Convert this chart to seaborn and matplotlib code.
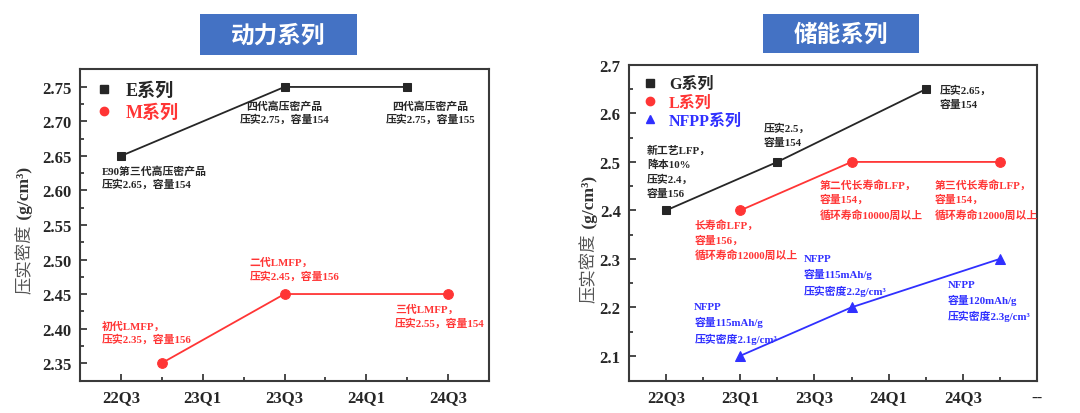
#!/usr/bin/env python3
# Compaction density roadmap: power series vs storage series

import pandas as pd
import matplotlib.pyplot as plt
import seaborn as sns
from matplotlib.patches import Rectangle
from matplotlib.lines import Line2D

sns.set_theme(style='ticks')
FONTS = ['Liberation Serif', 'Noto Sans CJK SC', 'DejaVu Sans']
plt.rcParams['font.family'] = FONTS

# quarter index: 0 = 22Q3, 1 = 22Q4, ...
left_ticks = ['22Q3', '23Q1', '23Q3', '24Q1', '24Q3']
right_ticks = ['22Q3', '23Q1', '23Q3', '24Q1', '24Q3', '--']

e_x = [0, 4, 7]
e_y = [2.65, 2.75, 2.75]
m_x = [1, 4, 8]
m_y = [2.35, 2.45, 2.45]

g_x = [0, 3, 7]
g_y = [2.40, 2.50, 2.65]
l_x = [2, 5, 9]
l_y = [2.40, 2.50, 2.50]
n_x = [2, 5, 9]
n_y = [2.10, 2.20, 2.30]

BLACK = '#262626'
RED = '#FF3535'
BLUE = '#3030FF'
TITLE_BLUE = '#4472C4'

fig = plt.figure(figsize=(10.8, 4.14), dpi=100)
ax1 = fig.add_axes([0.0741, 0.0773, 0.3787, 0.7536])
ax2 = fig.add_axes([0.5824, 0.0773, 0.3778, 0.7633])


def draw(ax, xs, ys, color, marker, size):
    df = pd.DataFrame({'q': xs, 'v': ys})
    sns.lineplot(data=df, x='q', y='v', ax=ax, color=color, marker=marker,
                 markersize=size, markeredgecolor=color, linewidth=1.3)


draw(ax1, e_x, e_y, BLACK, 's', 6)
draw(ax1, m_x, m_y, RED, 'o', 7)
draw(ax2, g_x, g_y, BLACK, 's', 6)
draw(ax2, l_x, l_y, RED, 'o', 7)
draw(ax2, n_x, n_y, BLUE, '^', 7)

# axes styling
for ax in (ax1, ax2):
    for sp in ax.spines.values():
        sp.set_linewidth(1.5)
        sp.set_color('#3a3a3a')
    ax.tick_params(which='both', direction='in', color='#3a3a3a', width=1.3)
    ax.tick_params(which='major', length=5, labelsize=12, pad=6)
    ax.tick_params(which='minor', length=3)
    ax.set_xlabel('')
    ax.set_ylabel('')

ax1.set_xlim(-1, 9)
ax1.set_ylim(2.324, 2.776)
ax1.set_xticks([0, 2, 4, 6, 8])
ax1.set_xticklabels(left_ticks, fontweight='bold')
ax1.set_xticks([1, 3, 5, 7], minor=True)
ax1.set_yticks([2.35, 2.40, 2.45, 2.50, 2.55, 2.60, 2.65, 2.70, 2.75])
ax1.set_yticklabels([f'{v:.2f}' for v in ax1.get_yticks()], fontweight='bold')
ax1.set_yticks([2.375, 2.425, 2.475, 2.525, 2.575, 2.625, 2.675, 2.725], minor=True)

ax2.set_xlim(-1, 10)
ax2.set_ylim(2.048, 2.70)
ax2.set_xticks([0, 2, 4, 6, 8, 10])
ax2.set_xticklabels(right_ticks, fontweight='bold')
ax2.set_xticks([1, 3, 5, 7, 9], minor=True)
ax2.set_yticks([2.1, 2.2, 2.3, 2.4, 2.5, 2.6, 2.7])
ax2.set_yticklabels([f'{v:.1f}' for v in ax2.get_yticks()], fontweight='bold')
ax2.set_yticks([2.15, 2.25, 2.35, 2.45, 2.55, 2.65], minor=True)


# y label: Chinese part plain grey, unit part bold
def ylabel(ax, x, split):
    ax.text(x, split, '压实密度', rotation=90, ha='center', va='top',
            fontsize=12.5, color='#555555', transform=ax.transAxes, family=FONTS)
    ax.text(x, split, ' (g/cm³)', rotation=90, ha='center', va='bottom',
            fontsize=12.5, color='#333333', fontweight='bold',
            transform=ax.transAxes, family=FONTS)


ylabel(ax1, -0.134, 0.505)
ylabel(ax2, -0.096, 0.47)


# legends
def legend(ax, items, fontsize, spacing):
    handles = [Line2D([], [], linestyle='none', marker=mk, color=c, markersize=6)
               for _, c, mk in items]
    leg = ax.legend(handles, [t for t, _, _ in items], loc='upper left',
                    frameon=False, fontsize=fontsize, handletextpad=0.6,
                    labelspacing=spacing, borderaxespad=0.3, handlelength=1.2)
    for txt, (_, c, _) in zip(leg.get_texts(), items):
        txt.set_color(c)
        txt.set_fontweight('bold')


legend(ax1, [('E系列', BLACK, 's'), ('M系列', RED, 'o')], 13, 0.25)
legend(ax2, [('G系列', BLACK, 's'), ('L系列', RED, 'o'), ('NFPP系列', BLUE, '^')], 11.5, 0.15)


# annotations
def note(ax, x, y, text, color, ha='left', ls=1.35):
    ax.text(x, y, text, color=color, fontsize=7.8, fontweight='bold', ha=ha,
            va='top', linespacing=ls, family=FONTS)


note(ax1, -0.46, 2.637, 'E90第三代高压密产品\n压实2.65，容量154', BLACK)
note(ax1, 4.0, 2.731, '四代高压密产品\n压实2.75，容量154', BLACK, ha='center')
note(ax1, 7.56, 2.731, '四代高压密产品\n压实2.75，容量155', BLACK, ha='center')
note(ax1, -0.46, 2.412, '初代LMFP，\n压实2.35，容量156', RED)
note(ax1, 3.15, 2.504, '二代LMFP，\n压实2.45，容量156', RED)
note(ax1, 6.7, 2.436, '三代LMFP，\n压实2.55，容量154', RED)

note(ax2, -0.51, 2.537, '新工艺LFP，\n降本10%\n压实2.4，\n容量156', BLACK, ls=1.5)
note(ax2, 2.62, 2.582, '压实2.5，\n容量154', BLACK, ls=1.5)
note(ax2, 7.38, 2.661, '压实2.65，\n容量154', BLACK, ls=1.5)
note(ax2, 4.14, 2.465, '第二代长寿命LFP，\n容量154，\n循环寿命10000周以上', RED, ls=1.5)
note(ax2, 7.24, 2.465, '第三代长寿命LFP，\n容量154，\n循环寿命12000周以上', RED, ls=1.5)
note(ax2, 0.76, 2.382, '长寿命LFP，\n容量156，\n循环寿命12000周以上', RED, ls=1.5)
note(ax2, 3.7, 2.310, 'NFPP\n容量115mAh/g\n压实密度2.2g/cm³', BLUE, ls=1.55)
note(ax2, 0.76, 2.211, 'NFPP\n容量115mAh/g\n压实密度2.1g/cm³', BLUE, ls=1.55)
note(ax2, 7.6, 2.257, 'NFPP\n容量120mAh/g\n压实密度2.3g/cm³', BLUE, ls=1.55)

# title boxes
for (x0, x1, y0, y1, title) in [(200, 357, 15, 56, '动力系列'), (763, 919, 15, 54, '储能系列')]:
    fig.patches.append(Rectangle((x0 / 1080, 1 - y1 / 414), (x1 - x0) / 1080,
                                 (y1 - y0) / 414, transform=fig.transFigure,
                                 facecolor=TITLE_BLUE, edgecolor='none'))
    fig.text((x0 + x1) / 2160, 1 - (y0 + y1) / 828, title, color='white',
             fontsize=17, fontweight='bold', ha='center', va='center',
             family=['Noto Sans CJK SC', 'DejaVu Sans'])

fig.savefig('out.png', dpi=100, facecolor='white')
